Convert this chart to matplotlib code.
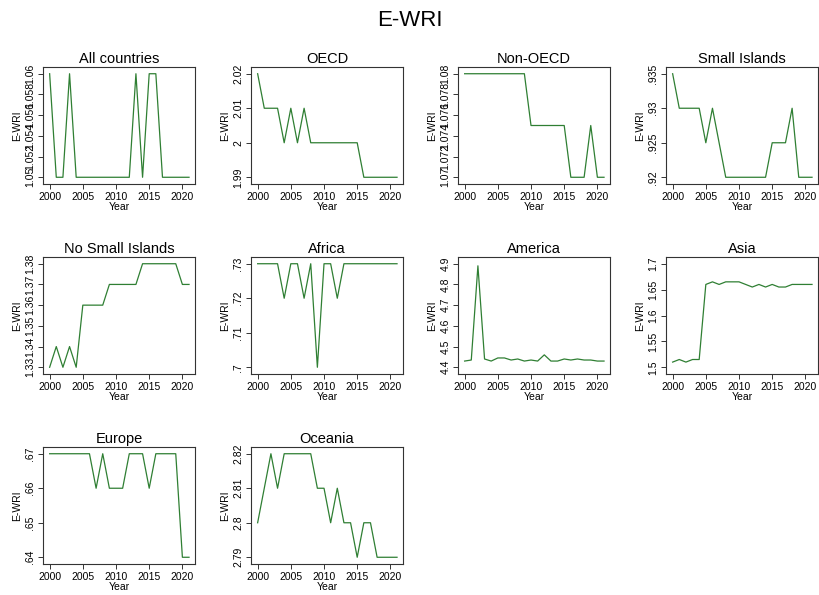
import matplotlib
matplotlib.use("Agg")
import matplotlib.pyplot as plt

years = list(range(2000, 2022))

titles = ["All countries", "OECD", "Non-OECD", "Small Islands",
          "No Small Islands", "Africa", "America", "Asia",
          "Europe", "Oceania"]

all_countries = [1.06, 1.05, 1.05, 1.06, 1.05, 1.05, 1.05, 1.05, 1.05, 1.05, 1.05,
                 1.05, 1.05, 1.06, 1.05, 1.06, 1.06, 1.05, 1.05, 1.05, 1.05, 1.05]
oecd = [2.02, 2.01, 2.01, 2.01, 2.00, 2.01, 2.00, 2.01, 2.00, 2.00, 2.00,
        2.00, 2.00, 2.00, 2.00, 2.00, 1.99, 1.99, 1.99, 1.99, 1.99, 1.99]
non_oecd = [1.08, 1.08, 1.08, 1.08, 1.08, 1.08, 1.08, 1.08, 1.08, 1.08, 1.075,
            1.075, 1.075, 1.075, 1.075, 1.075, 1.07, 1.07, 1.07, 1.075, 1.07, 1.07]
small_islands = [.935, .93, .93, .93, .93, .925, .93, .925, .92, .92, .92,
                 .92, .92, .92, .92, .925, .925, .925, .93, .92, .92, .92]
no_small_islands = [1.33, 1.34, 1.33, 1.34, 1.33, 1.36, 1.36, 1.36, 1.36, 1.37, 1.37,
                    1.37, 1.37, 1.37, 1.38, 1.38, 1.38, 1.38, 1.38, 1.38, 1.37, 1.37]
africa = [.73, .73, .73, .73, .72, .73, .73, .72, .73, .70, .73,
          .73, .72, .73, .73, .73, .73, .73, .73, .73, .73, .73]
america = [4.43, 4.435, 4.89, 4.44, 4.43, 4.445, 4.445, 4.435, 4.44, 4.43, 4.435,
           4.43, 4.46, 4.43, 4.43, 4.44, 4.435, 4.44, 4.435, 4.435, 4.43, 4.43]
asia = [1.51, 1.515, 1.51, 1.515, 1.515, 1.66, 1.665, 1.66, 1.665, 1.665, 1.665,
        1.66, 1.655, 1.66, 1.655, 1.66, 1.655, 1.655, 1.66, 1.66, 1.66, 1.66]
europe = [.67, .67, .67, .67, .67, .67, .67, .66, .67, .66, .66,
          .66, .67, .67, .67, .66, .67, .67, .67, .67, .64, .64]
oceania = [2.80, 2.81, 2.82, 2.81, 2.82, 2.82, 2.82, 2.82, 2.82, 2.81, 2.81,
           2.80, 2.81, 2.80, 2.80, 2.79, 2.80, 2.80, 2.79, 2.79, 2.79, 2.79]

series = [all_countries, oecd, non_oecd, small_islands, no_small_islands,
          africa, america, asia, europe, oceania]

ytick_vals = [
    [1.05, 1.052, 1.054, 1.056, 1.058, 1.06],
    [1.99, 2.00, 2.01, 2.02],
    [1.07, 1.072, 1.074, 1.076, 1.078, 1.08],
    [.92, .925, .93, .935],
    [1.33, 1.34, 1.35, 1.36, 1.37, 1.38],
    [.70, .71, .72, .73],
    [4.4, 4.5, 4.6, 4.7, 4.8, 4.9],
    [1.5, 1.55, 1.6, 1.65, 1.7],
    [.64, .65, .66, .67],
    [2.79, 2.80, 2.81, 2.82],
]
ytick_labels = [
    ["1.05", "1.052", "1.054", "1.056", "1.058", "1.06"],
    ["1.99", "2", "2.01", "2.02"],
    ["1.07", "1.072", "1.074", "1.076", "1.078", "1.08"],
    [".92", ".925", ".93", ".935"],
    ["1.33", "1.34", "1.35", "1.36", "1.37", "1.38"],
    [".7", ".71", ".72", ".73"],
    ["4.4", "4.5", "4.6", "4.7", "4.8", "4.9"],
    ["1.5", "1.55", "1.6", "1.65", "1.7"],
    [".64", ".65", ".66", ".67"],
    ["2.79", "2.8", "2.81", "2.82"],
]
xtick_vals = [2000, 2005, 2010, 2015, 2020]

W, H = 819, 595
fig = plt.figure(figsize=(W / 100, H / 100), dpi=100)
fig.patch.set_facecolor("white")
fig.text(0.5, 1 - 21 / H, "E-WRI", ha="center", va="center", fontsize=16,
         family="Liberation Sans")

col_left = [43, 251, 458, 666]
row_top = [67, 257, 447]
aw, ah = 152, 117
line_color = "#2f7f33"

for i, (ttl, vals) in enumerate(zip(titles, series)):
    r, c = divmod(i, 4)
    left = col_left[c]
    top = row_top[r]
    ax = fig.add_axes([left / W, 1 - (top + ah) / H, aw / W, ah / H])
    ax.plot(years, vals, color=line_color, lw=0.9)
    ax.set_xlim(1999, 2021.9)
    yt = ytick_vals[i]
    ymin = min(min(vals), yt[0])
    ymax = max(max(vals), yt[-1])
    pad = (ymax - ymin) * 0.065
    ax.set_ylim(ymin - pad, ymax + pad)
    ax.set_yticks(yt)
    ax.set_yticklabels(ytick_labels[i], rotation=90, va="center",
                       family="Liberation Sans", fontsize=7.5)
    ax.set_xticks(xtick_vals)
    ax.set_xticklabels([str(v) for v in xtick_vals], family="Liberation Sans",
                       fontsize=7.5)
    ax.tick_params(direction="out", length=3.5, width=0.7, pad=2, color="#333333")
    for s in ax.spines.values():
        s.set_linewidth(0.8)
        s.set_color("#333333")
    ax.set_title(ttl, fontsize=10.5, family="Liberation Sans", pad=3)
    ax.set_xlabel("Year", fontsize=7.5, family="Liberation Sans", labelpad=0)
    ax.set_ylabel("E-WRI", fontsize=7.5, family="Liberation Sans", labelpad=2)

fig.savefig("out.png", dpi=100, facecolor="white")
